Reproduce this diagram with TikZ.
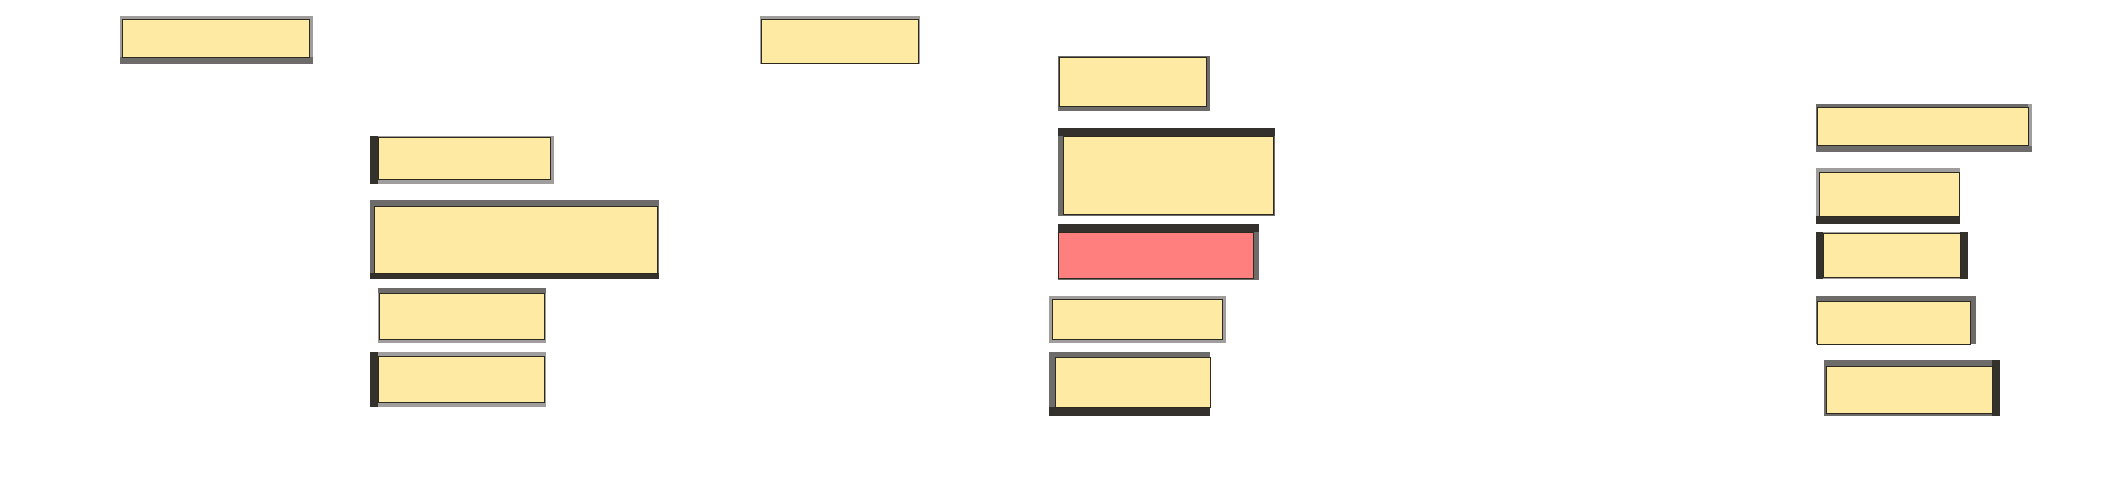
\documentclass[tikz,border=0pt]{standalone}
\usepackage{tikz}
\definecolor{ylw}{HTML}{FFEAA4}
\definecolor{rd}{HTML}{FF7F7F}
\definecolor{edge}{HTML}{2D2A20}
\definecolor{dk}{HTML}{34312C}
\definecolor{mg}{HTML}{6E6C6A}
\definecolor{lg}{HTML}{A09E9C}
\tikzset{
  yb/.style={draw=edge, line width=1pt, fill=ylw, inner sep=0pt, outer sep=0pt},
  rb/.style={yb, fill=rd},
}
\newcommand{\ibox}[6]{\node[#6, anchor=north west, minimum width={(#4-#2)*1pt}, minimum height={(#5-#3)*1pt}] (#1) at (#2,#3) {};}
\begin{document}
\begin{tikzpicture}[x=1pt,y=-1pt]
\useasboundingbox (0,0) rectangle (2118,488);
% A
\fill[lg] (120,16) rectangle (313,64);
\fill[mg] (120,57) rectangle (313,64);
\ibox{A}{122}{19}{309}{57}{yb}
% B
\fill[lg] (370,136) rectangle (554,184);
\fill[dk] (370,136) rectangle (378,184);
\ibox{B}{378}{137}{550}{179}{yb}
% C
\fill[mg] (370,200) rectangle (659,279);
\fill[dk] (370,273) rectangle (659,279);
\ibox{C}{374}{206}{657}{273}{yb}
% D
\fill[lg] (378,288) rectangle (546,343);
\fill[mg] (378,288) rectangle (546,293);
\ibox{D}{379}{293}{544}{339}{yb}
% E
\fill[lg] (370,352) rectangle (546,407);
\fill[dk] (370,352) rectangle (378,407);
\ibox{E}{378}{356}{544}{402}{yb}
% F
\fill[lg] (760,16) rectangle (920,64);
\ibox{F}{761}{19}{918}{63}{yb}
% G
\fill[mg] (1058,56) rectangle (1210,111);
\ibox{G}{1059}{57}{1206}{106}{yb}
% H
\fill[mg] (1058,128) rectangle (1275,216);
\fill[dk] (1058,128) rectangle (1275,136);
\ibox{H}{1063}{136}{1273}{214}{yb}
% I
\fill[mg] (1058,224) rectangle (1259,280);
\fill[dk] (1058,224) rectangle (1259,232);
\ibox{I}{1058}{232}{1253}{278}{rb}
% J
\fill[lg] (1049,296) rectangle (1226,343);
\ibox{J}{1052}{299}{1222}{339}{yb}
% K
\fill[mg] (1049,352) rectangle (1210,416);
\fill[dk] (1049,407) rectangle (1210,416);
\ibox{K}{1055}{357}{1210}{407}{yb}
% L
\fill[mg] (1816,104) rectangle (2032,152);
\fill[lg] (2028,104) rectangle (2032,146);
\ibox{L}{1817}{107}{2028}{145}{yb}
% M
\fill[lg] (1816,168) rectangle (1960,224);
\fill[dk] (1816,216) rectangle (1960,224);
\ibox{M}{1819}{172}{1959}{216}{yb}
% N
\fill[lg] (1816,232) rectangle (1968,279);
\fill[dk] (1816,232) rectangle (1823,279);
\fill[dk] (1960,232) rectangle (1968,279);
\ibox{N}{1823}{233}{1960}{277}{yb}
% O
\fill[mg] (1816,296) rectangle (1976,344);
\ibox{O}{1817}{301}{1970}{344}{yb}
% P
\fill[mg] (1824,360) rectangle (2000,416);
\fill[dk] (1992,360) rectangle (2000,416);
\ibox{P}{1826}{366}{1992}{413}{yb}
\end{tikzpicture}
\end{document}
